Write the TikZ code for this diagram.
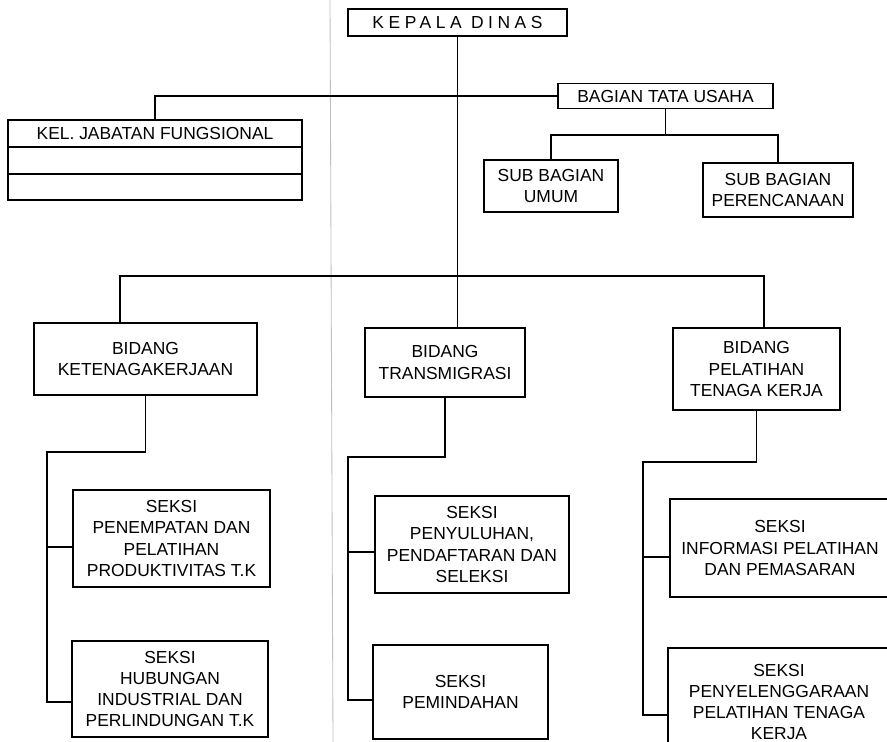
\documentclass[tikz,border=0pt]{standalone}
\usepackage{fontspec}
\setmainfont{Liberation Sans}
\newfontfamily\spacedfont[LetterSpace=26]{Liberation Sans}
\usetikzlibrary{calc}
\usetikzlibrary{positioning}

\tikzset{
	boxsize/.style 2 args={minimum width=#1*0.025cm, minimum height=#2*0.025cm},
	orgtext/.style={font=\fontsize{12.4}{15}\selectfont},
}

\begin{document}
\begin{tikzpicture}[x=0.025cm, y=-0.025cm, line width=1.4pt]
	\useasboundingbox (0,0) rectangle (887,742);
	\clip (0,0) rectangle (887,742);
	\fill[white] (0,0) rectangle (887,742);
	\draw[gray!50, line width=0.6pt] (330,0) -- (333,742);

	\begin{scope}[every node/.style={draw, rectangle, align=center, inner sep=0pt, orgtext}]
		\node[boxsize={219}{27}] (kepala) at (457.5,22.5) {\spacedfont KEPALA DINAS};
		\node[boxsize={294}{27}] (kel) at (155,133.5) {KEL. JABATAN FUNGSIONAL};
		\node[boxsize={294}{27}] (kelA) at (155,160.5) {};
		\node[boxsize={294}{26}] (kelB) at (155,187) {};
		\node[boxsize={215}{25}] (btu) at (665.5,96) {BAGIAN TATA USAHA};
		\node[boxsize={134}{52}] (umum) at (551,186) {SUB BAGIAN\\UMUM};
		\node[boxsize={150}{54}] (renc) at (778,190) {SUB BAGIAN\\PERENCANAAN};
		\node[boxsize={223}{72}] (bket) at (145.5,359) {BIDANG\\KETENAGAKERJAAN};
		\node[boxsize={160}{69}] (btrans) at (445,362.5) {BIDANG\\TRANSMIGRASI};
		\node[boxsize={167}{82}] (bpel) at (756.5,369) {BIDANG\\PELATIHAN\\TENAGA KERJA};
		\node[boxsize={197}{97}] (spen) at (171.5,538.5) {SEKSI\\PENEMPATAN DAN\\PELATIHAN\\PRODUKTIVITAS T.K};
		\node[boxsize={196}{96}] (shub) at (170,689) {SEKSI\\HUBUNGAN\\INDUSTRIAL DAN\\PERLINDUNGAN T.K};
		\node[boxsize={194}{97}] (spenyul) at (472,544.5) {SEKSI\\PENYULUHAN,\\PENDAFTARAN DAN\\SELEKSI};
		\node[boxsize={175}{94}] (spemind) at (460.5,692) {SEKSI\\PEMINDAHAN};
		\node[boxsize={220}{98}] (sinfo) at (780,548) {SEKSI\\INFORMASI PELATIHAN\\DAN PEMASARAN};
		\node[boxsize={222}{108}] (spenyel) at (779,702) {SEKSI\\PENYELENGGARAAN\\PELATIHAN TENAGA\\KERJA};
	\end{scope}

	\coordinate (btuJ) at (665.5,135);
	\coordinate (bidL) at (120,276);
	\coordinate (bidR) at (764,276);
	\coordinate (ketJ) at (47,452);
	\coordinate (ketA) at (47,547);
	\coordinate (ketB) at (47,702);
	\coordinate (trJ) at (348,457);
	\coordinate (trA) at (348,552);
	\coordinate (trB) at (348,700);
	\coordinate (pelJ) at (643,462);
	\coordinate (pelA) at (643,557);
	\coordinate (pelB) at (643,715);

	\draw (kepala.south) -- (kepala.south |- btrans.north);
	\draw (btu.west) -| (kel.north);
	\draw (btu.south) -- (btuJ);
	\draw (umum.north) |- (btuJ) -| (renc.north);
	\draw (bket.north -| bidL) -- (bidL) -- (bidR) -- (bidR |- bpel.north);
	\draw (bket.south) |- (ketJ) -- (ketB) -- (ketB -| shub.west);
	\draw (ketA) -- (ketA -| spen.west);
	\draw (btrans.south) |- (trJ) -- (trB) -- (trB -| spemind.west);
	\draw (trA) -- (trA -| spenyul.west);
	\draw (bpel.south) |- (pelJ) -- (pelB) -- (pelB -| spenyel.west);
	\draw (pelA) -- (pelA -| sinfo.west);
\end{tikzpicture}
\end{document}
